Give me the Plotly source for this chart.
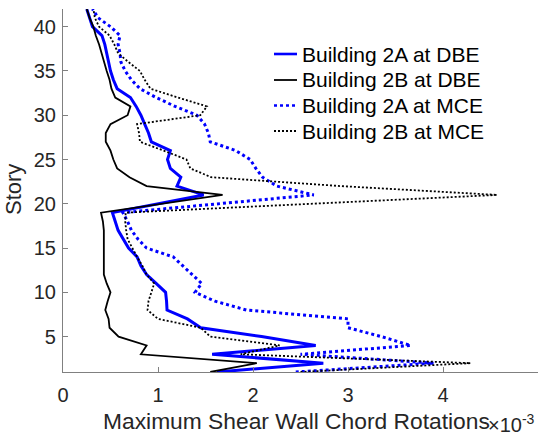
import plotly.graph_objects as go

stories = list(range(1, 20)) + list(range(21, 43))

b2a_dbe = [1.62, 2.74, 1.57, 2.66, 2.09, 1.45, 1.31, 1.095, 1.09, 1.08, 0.98, 0.88, 0.82, 0.78, 0.69, 0.635, 0.58, 0.55, 0.52,
           1.48, 1.20, 1.24, 1.13, 1.10, 1.13, 0.93, 0.90, 0.86, 0.82, 0.77, 0.71, 0.57, 0.53, 0.50, 0.48, 0.46, 0.44, 0.41, 0.31, 0.28, 0.25]
b2b_dbe = [1.55, 2.04, 0.82, 0.88, 0.585, 0.49, 0.48, 0.445, 0.47, 0.50, 0.46, 0.43, 0.43, 0.43, 0.43, 0.43, 0.43, 0.42, 0.40,
           1.68, 0.88, 0.70, 0.57, 0.53, 0.50, 0.45, 0.45, 0.50, 0.68, 0.71, 0.55, 0.51, 0.49, 0.46, 0.435, 0.41, 0.38, 0.345, 0.32, 0.28, 0.25]
b2a_mce = [2.45, 3.90, 2.50, 3.66, 3.35, 3.00, 3.00, 1.93, 1.60, 1.39, 1.46, 1.36, 1.27, 1.16, 0.88, 0.79, 0.72, 0.68, 0.63,
           2.64, 2.25, 2.10, 2.03, 1.97, 1.82, 1.55, 1.53, 1.49, 1.41, 1.18, 0.98, 0.81, 0.72, 0.655, 0.61, 0.60, 0.58, 0.60, 0.50, 0.37, 0.31]
b2b_mce = [2.50, 4.29, 1.87, 2.28, 1.55, 1.45, 1.00, 0.89, 0.90, 0.93, 0.96, 0.88, 0.835, 0.78, 0.73, 0.68, 0.665, 0.655, 0.66,
           4.57, 2.92, 1.56, 1.34, 1.30, 1.06, 0.81, 0.80, 0.78, 1.445, 1.515, 1.21, 0.92, 0.86, 0.81, 0.69, 0.58, 0.54, 0.49, 0.38, 0.335, 0.32]

names = ["Building 2A at DBE", "Building 2B at DBE", "Building 2A at MCE", "Building 2B at MCE"]
xticks = [0, 1, 2, 3, 4, 5]
yticks = [5, 10, 15, 20, 25, 30, 35, 40]

FONT = "Arial, Liberation Sans, sans-serif"
AX = "#262626"

styles = [
    dict(color="#0000ff", width=3),
    dict(color="#000000", width=1.8),
    dict(color="#0000ff", width=3, dash="3px,3px"),
    dict(color="#000000", width=1.8, dash="2px,2px"),
]
series = [b2a_dbe, b2b_dbe, b2a_mce, b2b_mce]

fig = go.Figure()
for nm, vals, st in zip(names, series, styles):
    fig.add_trace(go.Scatter(x=vals, y=stories, mode="lines", name=nm,
                             line=st, showlegend=False))

# plot area in pixels: x 63..538, y 9..372
L, R, T, B = 63, 538, 9, 372
def px(xp):
    return (xp - L) / (R - L)
def py(yp):
    return (B - yp) / (B - T)

shapes = []
annotations = []
leg_rows = [54, 80, 105.5, 131]
for nm, st, yr in zip(names, styles, leg_rows):
    shapes.append(dict(type="line", xref="paper", yref="paper",
                       x0=px(274), x1=px(297), y0=py(yr), y1=py(yr),
                       line=dict(color=st["color"], width=st["width"] if st["width"] < 3 else 2.6,
                                 dash=st.get("dash", "solid"))))
    annotations.append(dict(text=nm, xref="paper", yref="paper", x=px(300), y=py(yr),
                            xanchor="left", yanchor="middle", showarrow=False,
                            font=dict(family=FONT, size=21, color="#000000")))

annotations += [
    dict(text="Maximum Shear Wall Chord Rotations", xref="paper", yref="paper",
         x=px(296), y=py(421), xanchor="center", yanchor="middle", showarrow=False,
         font=dict(family=FONT, size=22.8, color=AX)),
    dict(text="Story", xref="paper", yref="paper", x=px(13), y=py(190),
         xanchor="center", yanchor="middle", textangle=-90, showarrow=False,
         font=dict(family=FONT, size=22, color=AX)),
    dict(text="\u00d710<sup>-3</sup>", xref="paper", yref="paper",
         x=px(486), y=py(423), xanchor="left", yanchor="middle", showarrow=False,
         font=dict(family=FONT, size=20, color=AX)),
]

fig.update_layout(
    width=542, height=436,
    margin=dict(l=L, r=542 - R, t=T, b=436 - B),
    paper_bgcolor="white", plot_bgcolor="white",
    font=dict(family=FONT, size=20, color=AX),
    showlegend=False,
    xaxis=dict(range=[0, 5], tickvals=xticks, ticktext=[str(v) for v in xticks],
               showline=True, linecolor="#808080", linewidth=1.2,
               ticks="inside", ticklen=5, tickcolor="#808080", tickwidth=1,
               showgrid=False, zeroline=False, mirror=False, ticklabelstandoff=5,
               tickfont=dict(family=FONT, size=20, color=AX)),
    yaxis=dict(range=[1, 42], tickvals=yticks, ticktext=[str(v) for v in yticks],
               showline=True, linecolor="#808080", linewidth=1.2,
               ticks="inside", ticklen=5, tickcolor="#808080", tickwidth=1,
               showgrid=False, zeroline=False, mirror=False, ticklabelstandoff=2,
               tickfont=dict(family=FONT, size=20, color=AX)),
    shapes=shapes,
    annotations=annotations,
)

fig.write_html("out.html")
